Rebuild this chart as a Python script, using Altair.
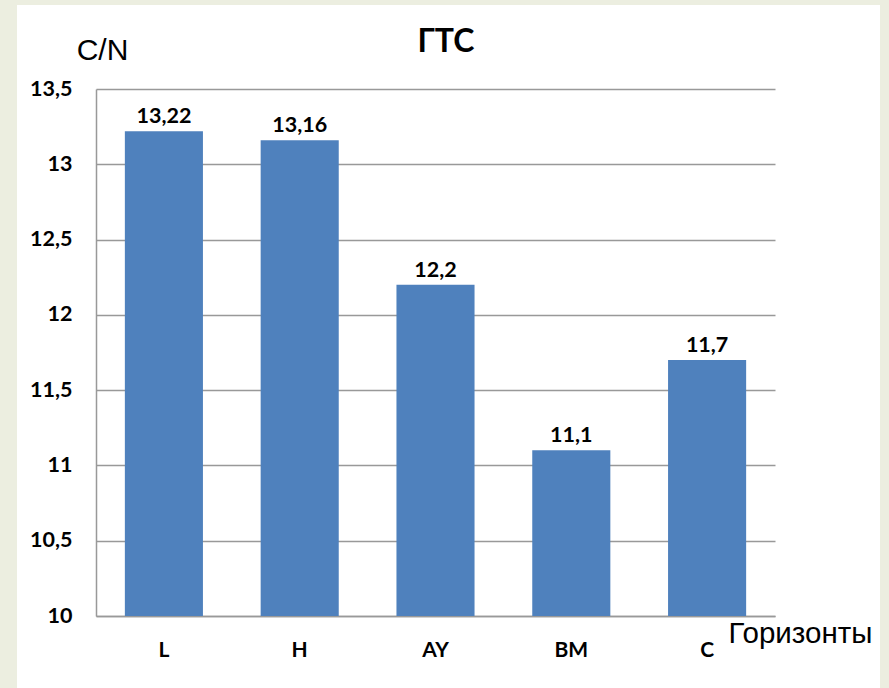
import altair as alt
import pandas as pd

# C/N ratio by soil horizon
horizons = ["L", "H", "AY", "BM", "C"]
cn_values = [13.22, 13.16, 12.2, 11.1, 11.7]
y_ticks = [10, 10.5, 11, 11.5, 12, 12.5, 13, 13.5]
chart_title = ["ГТС"]

df = pd.DataFrame({"horizon": horizons, "cn": cn_values})

W, H = 679, 527
PAD_L, PAD_T, PAD_R, PAD_B = 96, 89, 114, 72
FRAME = "#eceee0"
GRID = "#999999"

x_enc = alt.X(
    "horizon:N",
    sort=horizons,
    scale=alt.Scale(paddingInner=0.425, paddingOuter=0.2125),
    axis=alt.Axis(
        title="Горизонты",
        titleFont="Liberation Sans",
        titleFontSize=29.5,
        titleFontWeight="normal",
        titleColor="#000000",
        titleAngle=0,
        titleAlign="left",
        titleBaseline="alphabetic",
        titleX=632,
        titleY=26,
        labelAngle=0,
        labelFont="Lato",
        labelFontWeight="bold",
        labelFontSize=21,
        labelColor="#000000",
        labelPadding=23,
        ticks=False,
        domainColor=GRID,
        domainWidth=1.5,
        grid=False,
    ),
)

y_enc = alt.Y(
    "cn:Q",
    scale=alt.Scale(domain=[10, 13.5], nice=False, zero=False),
    axis=alt.Axis(
        values=y_ticks,
        labelExpr="replace(format(datum.value, '.1~f'), '.', ',')",
        title="C/N",
        titleFont="Liberation Sans",
        titleFontSize=30,
        titleFontWeight="normal",
        titleColor="#000000",
        titleAngle=0,
        titleAlign="center",
        titleBaseline="alphabetic",
        titleX=6,
        titleY=-30,
        labelFont="Lato",
        labelFontWeight="bold",
        labelFontSize=21.5,
        labelColor="#000000",
        labelPadding=24,
        ticks=False,
        domainColor=GRID,
        domainWidth=1.5,
        grid=True,
        gridColor=GRID,
        gridWidth=1.5,
    ),
)

bars = alt.Chart(df).mark_bar(color="#4f81bd", clip=True).encode(
    x=x_enc, y=y_enc, y2=alt.datum(10)
)

labels = alt.Chart(df).transform_calculate(
    label="replace(format(datum.cn, '.2~f'), '.', ',')"
).mark_text(
    font="Lato", fontWeight="bold", fontSize=21.5, color="#000000",
    baseline="alphabetic", dy=-8,
).encode(
    x=alt.X("horizon:N", sort=horizons),
    y=alt.Y("cn:Q"),
    text="label:N",
)

# chart heading above the plot
heading = alt.Chart(pd.DataFrame({"t": chart_title})).mark_text(
    font="Lato", fontWeight="bold", fontSize=32, color="#000000",
    align="center", baseline="alphabetic",
).encode(
    x=alt.value(350), y=alt.value(-37), text="t:N"
)

# slide-style frame strips around the white panel
frame_left = alt.Chart(df).mark_rect(color=FRAME).encode(
    x=alt.value(-PAD_L), x2=alt.value(17 - PAD_L),
    y=alt.value(-PAD_T), y2=alt.value(H + PAD_B),
)
frame_top = alt.Chart(df).mark_rect(color=FRAME).encode(
    x=alt.value(-PAD_L), x2=alt.value(W + PAD_R),
    y=alt.value(-PAD_T), y2=alt.value(5 - PAD_T),
)
frame_right = alt.Chart(df).mark_rect(color=FRAME).encode(
    x=alt.value(880 - PAD_L), x2=alt.value(W + PAD_R),
    y=alt.value(-PAD_T), y2=alt.value(H + PAD_B),
)

chart = alt.layer(
    frame_left, frame_top, frame_right, bars, labels, heading
).properties(
    width=W,
    height=H,
    padding={"left": PAD_L, "top": PAD_T, "right": PAD_R, "bottom": PAD_B},
    autosize=alt.AutoSizeParams(type="none"),
    background="#ffffff",
).configure_view(stroke=None)

chart.save("out.html", embed_options={"renderer": "svg", "actions": False})
